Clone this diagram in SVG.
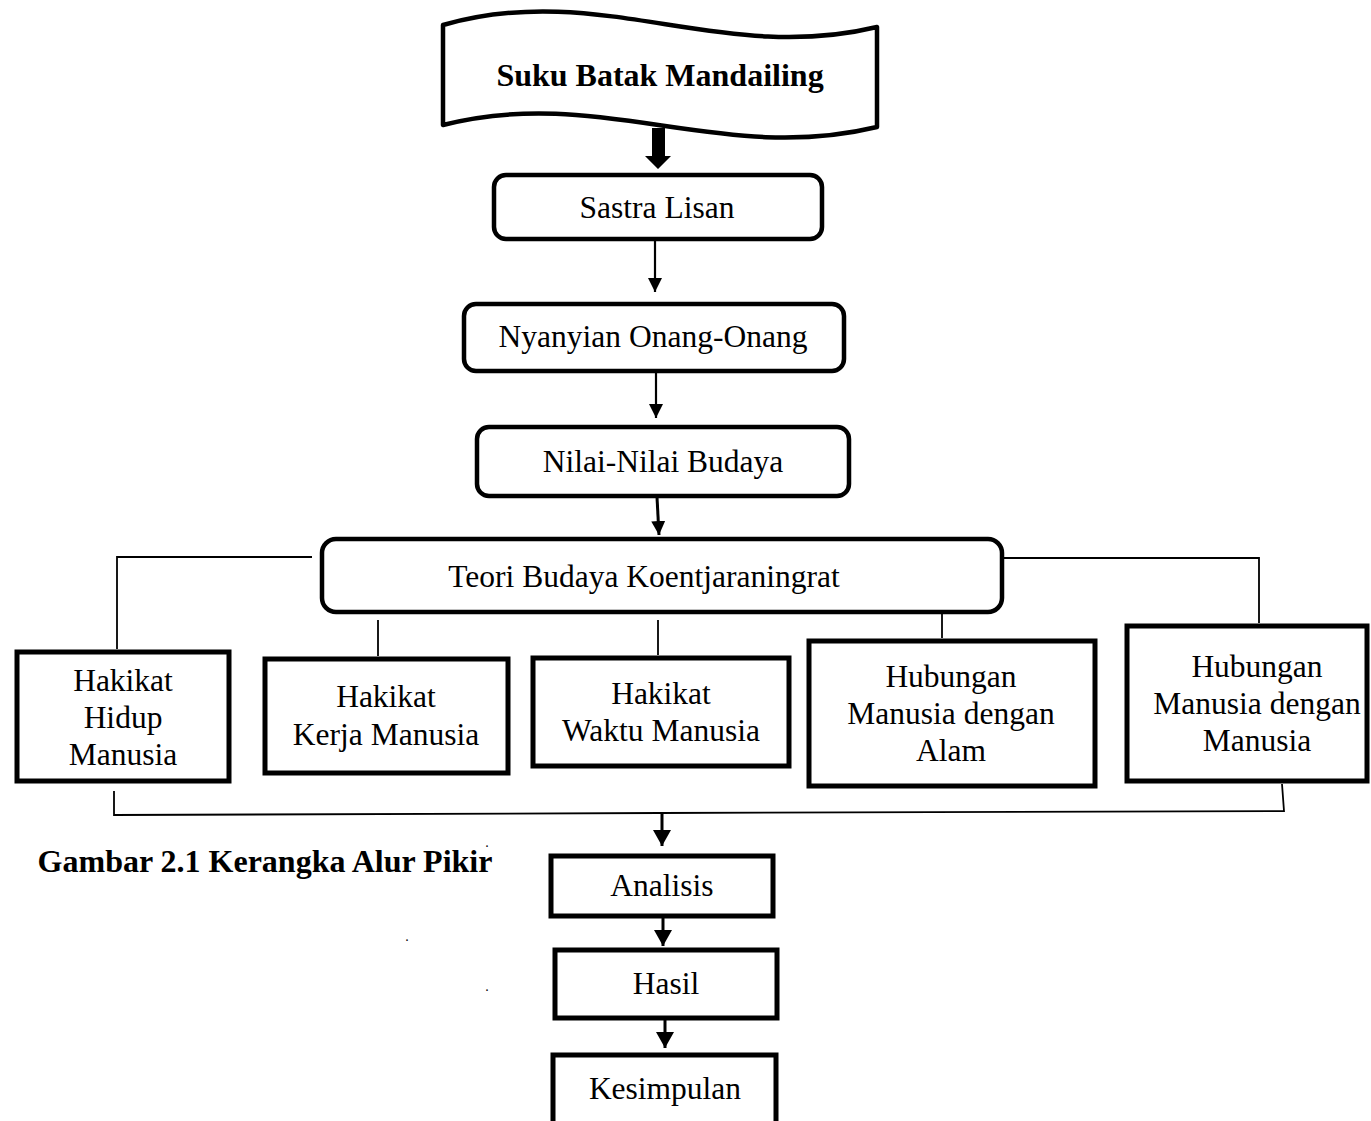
<svg xmlns="http://www.w3.org/2000/svg" width="1371" height="1121" viewBox="0 0 1371 1121">
<style>
text{font-family:"Liberation Serif","Times New Roman",serif;fill:#000;text-anchor:middle}
.t{font-size:31.5px}
.b{font-size:32px;font-weight:bold}
.dot{font-size:14px}
.rb{fill:#fff;stroke:#000;stroke-width:4.5}
.sb{fill:#fff;stroke:#000;stroke-width:5}
.ln{fill:none;stroke:#000;stroke-width:1.8}
.ar{fill:none;stroke:#000;stroke-width:2.2}
.ar2{fill:none;stroke:#000;stroke-width:3}
</style>
<defs>
<marker id="ah" markerUnits="userSpaceOnUse" markerWidth="14" markerHeight="14" refX="14" refY="7" orient="auto">
<path d="M0,0 L14,7 L0,14 Z" fill="#000"/>
</marker>
<marker id="ah2" markerUnits="userSpaceOnUse" markerWidth="16" markerHeight="18" refX="16" refY="9" orient="auto">
<path d="M0,0 L16,9 L0,18 Z" fill="#000"/>
</marker>
</defs>

<g id="connectors">
<polygon points="652,128 665,128 665,156 671,156 658,169 645,156 652,156" fill="#000"/>
<line class="ar" x1="655" y1="241" x2="655" y2="292" marker-end="url(#ah)"/>
<line class="ar" x1="656" y1="372" x2="656" y2="418" marker-end="url(#ah)"/>
<line class="ar2" x1="657" y1="497" x2="659" y2="535" marker-end="url(#ah)"/>
<polyline class="ln" points="312,557 117,557 117,649"/>
<polyline class="ln" points="1004,558 1259,558 1259,623"/>
<line class="ln" x1="378" y1="620" x2="378" y2="656"/>
<line class="ln" x1="658" y1="620" x2="658" y2="655"/>
<line class="ln" x1="942" y1="614" x2="942" y2="638"/>
<polyline class="ln" points="114,791 114,815 660,813 1284,811 1282,784"/>
<line class="ar2" x1="662" y1="813" x2="662" y2="846" marker-end="url(#ah2)"/>
<line class="ar2" x1="663" y1="917" x2="663" y2="946" marker-end="url(#ah2)"/>
<line class="ar2" x1="665" y1="1016" x2="665" y2="1048" marker-end="url(#ah2)"/>
</g>

<g id="node-suku">
<path d="M443,25 C600,-20 720,65 877,27 L877,127 C720,165 600,85 443,125 Z" fill="#fff" stroke="#000" stroke-width="4.5" stroke-linejoin="round"/>
<text class="b" x="660" y="86">Suku Batak Mandailing</text>
</g>

<g id="node-sastra">
<rect class="rb" x="494" y="175" width="328" height="64" rx="12"/>
<text class="t" x="657" y="218">Sastra Lisan</text>
</g>

<g id="node-nyanyian">
<rect class="rb" x="464" y="304" width="380" height="67" rx="12"/>
<text class="t" x="653" y="347">Nyanyian Onang-Onang</text>
</g>

<g id="node-nilai">
<rect class="rb" x="477" y="427" width="372" height="69" rx="12"/>
<text class="t" x="663" y="472">Nilai-Nilai Budaya</text>
</g>

<g id="node-teori">
<rect class="rb" x="322" y="539" width="680" height="73" rx="14"/>
<text class="t" x="644" y="587">Teori Budaya Koentjaraningrat</text>
</g>

<g id="node-hidup">
<rect class="sb" x="17" y="652" width="212" height="129"/>
<text class="t" x="123" y="691">Hakikat</text>
<text class="t" x="123" y="728">Hidup</text>
<text class="t" x="123" y="765">Manusia</text>
</g>

<g id="node-kerja">
<rect class="sb" x="265" y="659" width="243" height="114"/>
<text class="t" x="386" y="707">Hakikat</text>
<text class="t" x="386" y="745">Kerja Manusia</text>
</g>

<g id="node-waktu">
<rect class="sb" x="533" y="658" width="256" height="108"/>
<text class="t" x="661" y="704">Hakikat</text>
<text class="t" x="661" y="741">Waktu Manusia</text>
</g>

<g id="node-alam">
<rect class="sb" x="809" y="641" width="286" height="145"/>
<text class="t" x="951" y="687">Hubungan</text>
<text class="t" x="951" y="724">Manusia dengan</text>
<text class="t" x="951" y="761">Alam</text>
</g>

<g id="node-manusia">
<rect class="sb" x="1127" y="626" width="240" height="155"/>
<text class="t" x="1257" y="677">Hubungan</text>
<text class="t" x="1257" y="714">Manusia dengan</text>
<text class="t" x="1257" y="751">Manusia</text>
</g>

<g id="node-analisis">
<rect class="sb" x="551" y="856" width="222" height="60"/>
<text class="t" x="662" y="896">Analisis</text>
</g>

<g id="node-hasil">
<rect class="sb" x="555" y="950" width="222" height="68"/>
<text class="t" x="666" y="994">Hasil</text>
</g>

<g id="node-kesimpulan">
<path d="M553,1125 L553,1055 L776,1055 L776,1125" fill="#fff" stroke="#000" stroke-width="5"/>
<text class="t" x="665" y="1099">Kesimpulan</text>
</g>

<g id="caption">
<text class="b" x="265" y="872">Gambar 2.1 Kerangka Alur Pikir</text>
<text class="dot" x="487" y="847">.</text>
<text class="dot" x="407" y="941">.</text>
<text class="dot" x="487" y="991">.</text>
</g>
</svg>
